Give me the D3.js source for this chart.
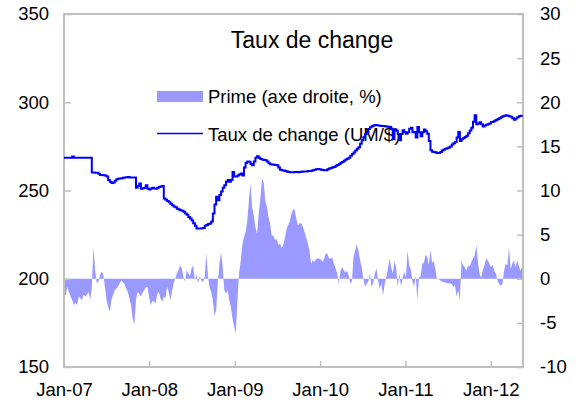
<!DOCTYPE html>
<html>
<head>
<meta charset="utf-8">
<script src="https://cdn.jsdelivr.net/npm/d3@7"></script>
<style>
  body { margin: 0; background: #fff; }
  svg text { font-family: "Liberation Sans", Arial, sans-serif; fill: #000; }
</style>
</head>
<body>
<svg id="chart" width="578" height="402"></svg>
<script>
// weekly observations starting on this date
var startDate = "2007-01-01";
var endDate = "2012-05-18";

// Taux de change (UM/$), left axis
var rateValues = [
  268.5, 268.5, 268.5, 268.5, 268.5, 269.3,
  268.5, 268.5, 268.5, 268.5, 268.5, 268.5, 268.5, 268.5, 268.5, 268.5, 268.5,
  260.2, 260.2, 260, 260,
  259.5, 258.8, 258.8, 258.7, 258.5, 258, 256, 255, 254.3, 254.5,
  255.5, 256.4, 256.6, 256.8, 257, 257.2, 257.3, 257.5, 257.6, 257.4,
  257.3, 257.3, 257.3, 251.5, 252.5, 254, 251, 251.3, 251.5, 253,
  251, 250.5, 251.2, 251.5, 251.2, 251, 251.6, 252, 252.3, 252.5,
  245.5, 244.8, 244, 243.3, 242.5, 241.7, 241, 240.5, 239.6, 239.2,
  238.8, 238.5, 238, 237, 236.2, 235, 234.1, 233, 231.5, 230,
  228.5, 228.5, 228.5, 228.6, 228.7, 230, 230.5, 231, 231.3, 232.5,
  237, 242, 246.4, 244.5, 247.5, 249.5, 251.5, 253, 255, 256,
  255, 256, 260.5, 258, 258, 258.5, 259, 259.6, 258.5, 263,
  265.6, 266.5, 266.3, 265, 264.3, 266.5, 268.5, 269.4, 268.5, 267.9,
  267.6, 267.3, 267.1, 266.5, 265.5, 264.9, 264.8, 264.6, 264.4, 264.3,
  263, 261.8, 261.5, 261.3, 261, 260.8, 260.5, 260.3, 260.3, 260.3,
  260.5, 260.5, 260.4, 260.5, 260.6, 260.7, 260.7, 260.8, 261, 261,
  261.2, 261.5, 261.8, 262, 262.2, 262, 261.8, 261.6, 261.5, 261.5,
  262, 262.5, 262.8, 263.2, 263.3, 264, 264.5, 265, 265.7, 266.2,
  266.8, 267.5, 268, 268.6, 269.7, 270.7, 271.5, 272.7, 273.6, 274.5,
  276.5, 278.5, 280.2, 281.8, 283.2, 284.8, 285.8, 286.4, 286.8, 287.1,
  287, 286.8, 286.7, 286.6, 286.5, 286.4, 286.2, 286.1, 286, 285,
  279, 284.5, 284, 282, 278.4, 282, 284.1, 283, 282.2, 283,
  285, 285.5, 283, 283.1, 280, 286, 283, 280.7, 283, 284.5,
  283.5, 282.2, 278, 272.8, 272, 271.8, 271.5, 271.3, 271.2, 271.8,
  272.6, 273.2, 273.6, 274, 274.3, 275, 276, 276.8, 277.5, 280,
  283.1, 278, 279, 279.8, 280.3, 281, 282.5, 284, 285.5, 289,
  292.6, 287.5, 288, 288.6, 287.5, 286.2, 286.8, 287.2, 287.5, 288,
  288.8, 289, 289.5, 290, 290.5, 291, 291.5, 292, 292.4, 292.6,
  292.4, 292.1, 291.8, 291, 290.1, 290.8, 291.5, 292, 292.3, 292.6
];

// Prime (axe droite, %), right axis
var premiumValues = [
  -1.6, -1.9, -0.9, -1.5, -2.0, -2.4, -3.0, -2.7, -3.0, -2.0,
  -2.2, -2.4, -1.8, -2.0, -1.8, -1.5, -2.4, -1.0, 3.6, 1.0,
  -0.5, -0.3, 0.4, 0.8, 0.5, -0.9, -2.4, -3.2, -3.7, -2.4,
  -1.8, -1.3, -1.1, -0.9, -0.5, -0.2, -0.4, -0.6, -1.1, -1.5,
  -2.2, -3.0, -4.5, -5.2, -2.4, -1.5, -1.7, -2.0, -1.6, -1.3,
  -1.0, -0.9, -2.0, -3.0, -2.5, -2.6, -2.8, -1.7, -1.5, -2.2,
  -2.6, -2.0, -2.2, -0.9, -1.5, -2.4, -1.5, -0.5, 0, 0.6,
  1.0, 1.5, 1.2, 0.2, -0.3, 1.0, 0.6, 0.3, 1.2, 1.5,
  -0.2, 0.5, -0.5, 0.3, -0.2, -0.4, 0.2, 2.9, 0.3, -1.0,
  -1.5, -2.4, -4.2, -3.6, -0.5, 1.7, 3.0, 1.3, -1.3, -1.7,
  -1.3, -2.4, -3.2, -4.5, -5.4, -6.2, -2.5, 0.6, 2.0, 3.8,
  4.7, 5.3, 6.5, 8.8, 10.8, 8.1, 7.2, 5.9, 5.1, 7.3,
  9.0, 11.3, 11.0, 8.9, 8.2, 7.0, 6.2, 4.9, 4.9, 4.4,
  4.5, 3.8, 4.0, 3.5, 3.8, 4.6, 5.6, 6.1, 6.5, 7.3,
  7.9, 7.8, 6.8, 6.0, 6.3, 6.3, 5.9, 5.3, 4.7, 4.0,
  3.3, 1.7, 2.1, 1.9, 2.2, 2.3, 2.3, 2.2, 1.9, 2.3,
  2.9, 2.8, 2.3, 2.3, 2.4, 1.7, 1.2, 0.6, -0.6, 0.9,
  1.3, 1.0, 0.7, 0.9, 0.4, -0.5, -0.3, 2.5, 3.2, 3.9,
  3.2, 2.1, 1.3, 0, -0.9, -0.6, -0.3, 0.6, -0.9, -0.5,
  0.6, 1.2, -0.2, -1.2, -0.5, -1.9, -0.6, 0.2, 1.1, 2.3,
  1.3, 0.6, 2.0, 1.3, -0.9, 0.6, -0.9, 0.1, 0.8, 0.1,
  3.2, 1.5, 1.1, -0.3, -0.9, 0.4, -2.4, 0.1, 0.3, 1.7,
  1.8, 2.7, 2.5, 1.6, 3.3, 1.8, 2.0, 1.1, -0.1, 0,
  -0.2, -0.3, -0.4, -0.4, -0.5, -0.5, -0.5, -0.6, -0.9, -0.7,
  -2.0, -1.3, -2.4, 2.1, 1.5, 1.3, 0.9, 1.5, 1.4, 1.9,
  2.3, 2.6, 3.8, 1.9, 0.6, 0.1, 1.0, 1.5, 2.3, 2.1,
  1.7, 1.3, 1.6, 0.9, 0.6, -0.2, -0.6, -0.8, -0.6, 0.9,
  1.7, 1.5, 3.6, 1.1, 1.7, 2.1, 1.3, 2.1, 1.5, 0.9, 1.3
];

var leftTicks = [150, 200, 250, 300, 350];
var rightTicks = [-10, -5, 0, 5, 10, 15, 20, 25, 30];
var yearTicks = ["2007-01-01", "2008-01-01", "2009-01-01", "2010-01-01", "2011-01-01", "2012-01-01"];

var title = "Taux de change";
var premiumLabel = "Prime (axe droite, %)";
var rateLabel = "Taux de change (UM/$)";

var parse = d3.timeParse("%Y-%m-%d");
var start = parse(startDate);
var dates = premiumValues.map(function(d, i) { return d3.timeDay.offset(start, 7 * i); });

// plot box
var plotLeft = 64, plotRight = 523, plotTop = 14, plotBottom = 367;
var grey = "#bfbfbf";

var svg = d3.select("#chart");

var x = d3.scaleTime()
  .domain([start, parse(endDate)])
  .range([plotLeft, plotRight]);

var yLeft = d3.scaleLinear().domain([150, 350]).range([plotBottom, plotTop]);
var yRight = d3.scaleLinear().domain([-10, 30]).range([plotBottom, plotTop]);

// plain hyphen for negatives, like the original
var plain = function(d) { return String(d); };

// bars (drawn as a dense area)
var area = d3.area()
  .x(function(d, i) { return x(dates[i]); })
  .y0(yRight(0))
  .y1(function(d) { return yRight(d); });

svg.append("path")
  .datum(premiumValues)
  .attr("d", area)
  .attr("fill", "#9999ff");

// frame
svg.append("rect")
  .attr("x", plotLeft).attr("y", plotTop)
  .attr("width", plotRight - plotLeft).attr("height", plotBottom - plotTop)
  .attr("fill", "none")
  .attr("stroke", grey)
  .attr("stroke-width", 2);

// axes
var axisLeft = svg.append("g")
  .attr("transform", "translate(" + plotLeft + ",0)")
  .call(d3.axisRight(yLeft).tickValues(leftTicks).tickSize(7).tickFormat(plain));
axisLeft.selectAll("text").attr("x", -15).attr("text-anchor", "end");

var axisRight = svg.append("g")
  .attr("transform", "translate(" + plotRight + ",0)")
  .call(d3.axisLeft(yRight).tickValues(rightTicks).tickSize(6).tickFormat(plain));
axisRight.selectAll("text").attr("x", 17).attr("text-anchor", "start");

var axisBottom = svg.append("g")
  .attr("transform", "translate(0," + plotBottom + ")")
  .call(d3.axisTop(x).tickValues(yearTicks.map(parse)).tickSize(6).tickFormat(d3.timeFormat("%b-%y")));
axisBottom.selectAll("text").attr("y", 29).attr("dy", 0);

svg.selectAll(".domain").remove();
svg.selectAll(".tick line").attr("stroke", grey).attr("stroke-width", 1.5);
svg.selectAll(".tick text").style("font-size", "18.5px").attr("fill", "#000");

// title
svg.append("text")
  .attr("x", 312).attr("y", 48)
  .attr("text-anchor", "middle")
  .style("font-size", "23px")
  .text(title);

// legend
svg.append("rect")
  .attr("x", 157).attr("y", 91)
  .attr("width", 46).attr("height", 11)
  .attr("fill", "#9999ff");
svg.append("text")
  .attr("x", 208).attr("y", 103)
  .style("font-size", "18.5px")
  .text(premiumLabel);

svg.append("line")
  .attr("x1", 157).attr("x2", 203)
  .attr("y1", 133.5).attr("y2", 133.5)
  .attr("stroke", "#0000ff")
  .attr("stroke-width", 1.5);
svg.append("text")
  .attr("x", 208).attr("y", 141)
  .style("font-size", "18.5px")
  .text(rateLabel);

// exchange rate line
var line = d3.line()
  .curve(d3.curveStepAfter)
  .x(function(d, i) { return x(dates[i]); })
  .y(function(d) { return yLeft(d); });

svg.append("path")
  .datum(rateValues)
  .attr("d", line)
  .attr("fill", "none")
  .attr("stroke", "#0000ff")
  .attr("stroke-width", 2);
</script>
</body>
</html>
